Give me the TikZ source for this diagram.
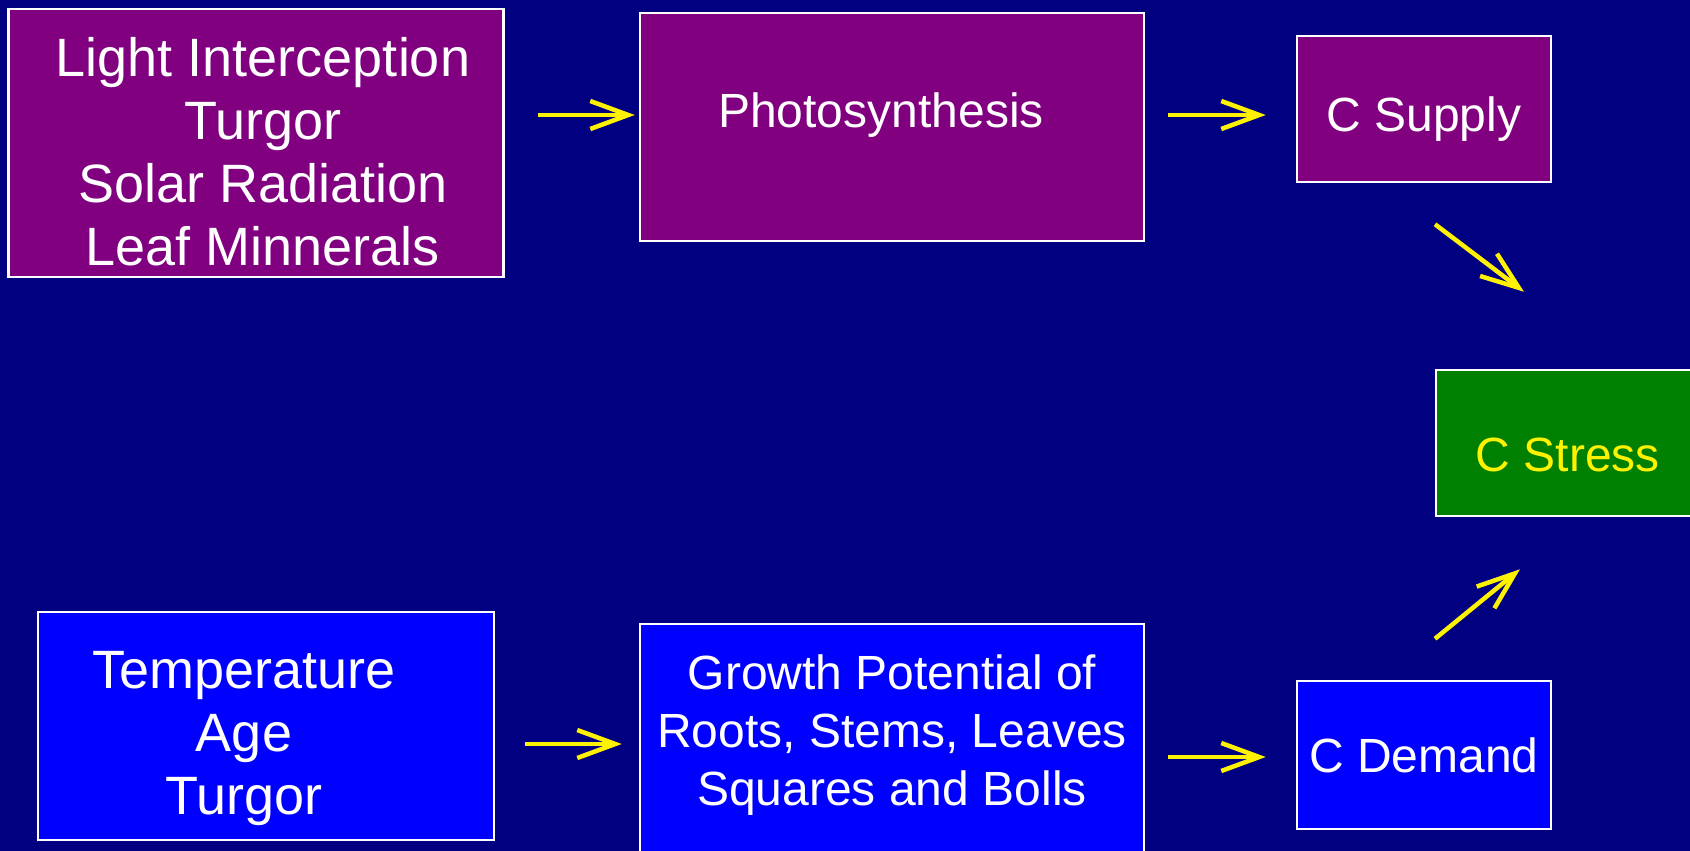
\documentclass[tikz,border=0pt]{standalone}
\usepackage{fontspec}
\setmainfont{Liberation Sans}
\usetikzlibrary{arrows.meta}
\definecolor{slidebg}{HTML}{000080}
\definecolor{boxpurple}{HTML}{800080}
\definecolor{boxblue}{HTML}{0000FF}
\definecolor{boxgreen}{HTML}{008000}

\begin{document}
\begin{tikzpicture}[x=1pt, y=-1pt,
  box/.style={draw=white, line width=2.5pt, align=center, text=white, inner sep=0pt},
  bigtext/.style={font=\fontsize{54}{63}\selectfont},
  smalltext/.style={font=\fontsize{48}{58}\selectfont},
  arr/.style={yellow, line width=4.5pt, -{Straight Barb[length=38pt, width=28pt]}}]
\useasboundingbox (0,0) rectangle (1690,851);
\fill[slidebg] (0,0) rectangle (1690,851);
% --- carbon supply side ---
\node[box, fill=boxpurple, bigtext, minimum width=495pt, minimum height=268pt,
  text height=63pt, text depth=19pt] (light) at (256,143)
  {\begin{tabular}{@{\hspace{14pt}}c@{}}Light Interception\\Turgor\\Solar Radiation\\Leaf Minnerals\end{tabular}};
\node[box, fill=boxpurple, smalltext, minimum width=504pt, minimum height=228pt,
  text height=35pt, text depth=33pt] (photo) at (892,127) {Photosynthesis\hspace*{22pt}};
\node[box, fill=boxpurple, smalltext, minimum width=254pt, minimum height=146pt,
  text height=45pt, text depth=0pt] (supply) at (1424,109) {C Supply};
% --- stress ---
\node[box, fill=boxgreen, smalltext, text=yellow, minimum width=264pt, minimum height=146pt,
  text height=56pt, text depth=0pt] (stress) at (1568,443) {C Stress};
% --- carbon demand side ---
\node[box, fill=boxblue, bigtext, minimum width=456pt, minimum height=228pt,
  text height=58pt, text depth=19pt] (temp) at (266,726)
  {\begin{tabular}{@{}c@{\hspace{44pt}}}Temperature\\Age\\Turgor\end{tabular}};
\node[box, fill=boxblue, smalltext, minimum width=504pt, minimum height=256pt,
  text depth=43pt] (growth) at (892,752) {Growth Potential of\\Roots, Stems, Leaves\\Squares and Bolls};
\node[box, fill=boxblue, smalltext, minimum width=254pt, minimum height=148pt] (demand) at (1424,755) {C Demand};
% --- arrows ---
\draw[arr, shorten <=33pt, shorten >=4pt] ([yshift=28pt]light.east) coordinate (s1) -- (s1 -| photo.west);
\draw[arr, shorten <=23pt, shorten >=30pt] ([yshift=12pt]photo.east) coordinate (s2) -- (s2 -| supply.west);
\draw[arr] ([shift={(11,41)}]supply.south) -- ([shift={(-44,-77)}]stress.north);
\draw[arr, shorten <=30pt, shorten >=17pt] ([yshift=-18pt]temp.east) coordinate (s5) -- (s5 -| growth.west);
\draw[arr, shorten <=23pt, shorten >=30pt] ([yshift=-5pt]growth.east) coordinate (s6) -- (s6 -| demand.west);
\draw[arr] ([shift={(11,-41)}]demand.north) -- ([shift={(-48,52)}]stress.south);
\end{tikzpicture}
\end{document}
